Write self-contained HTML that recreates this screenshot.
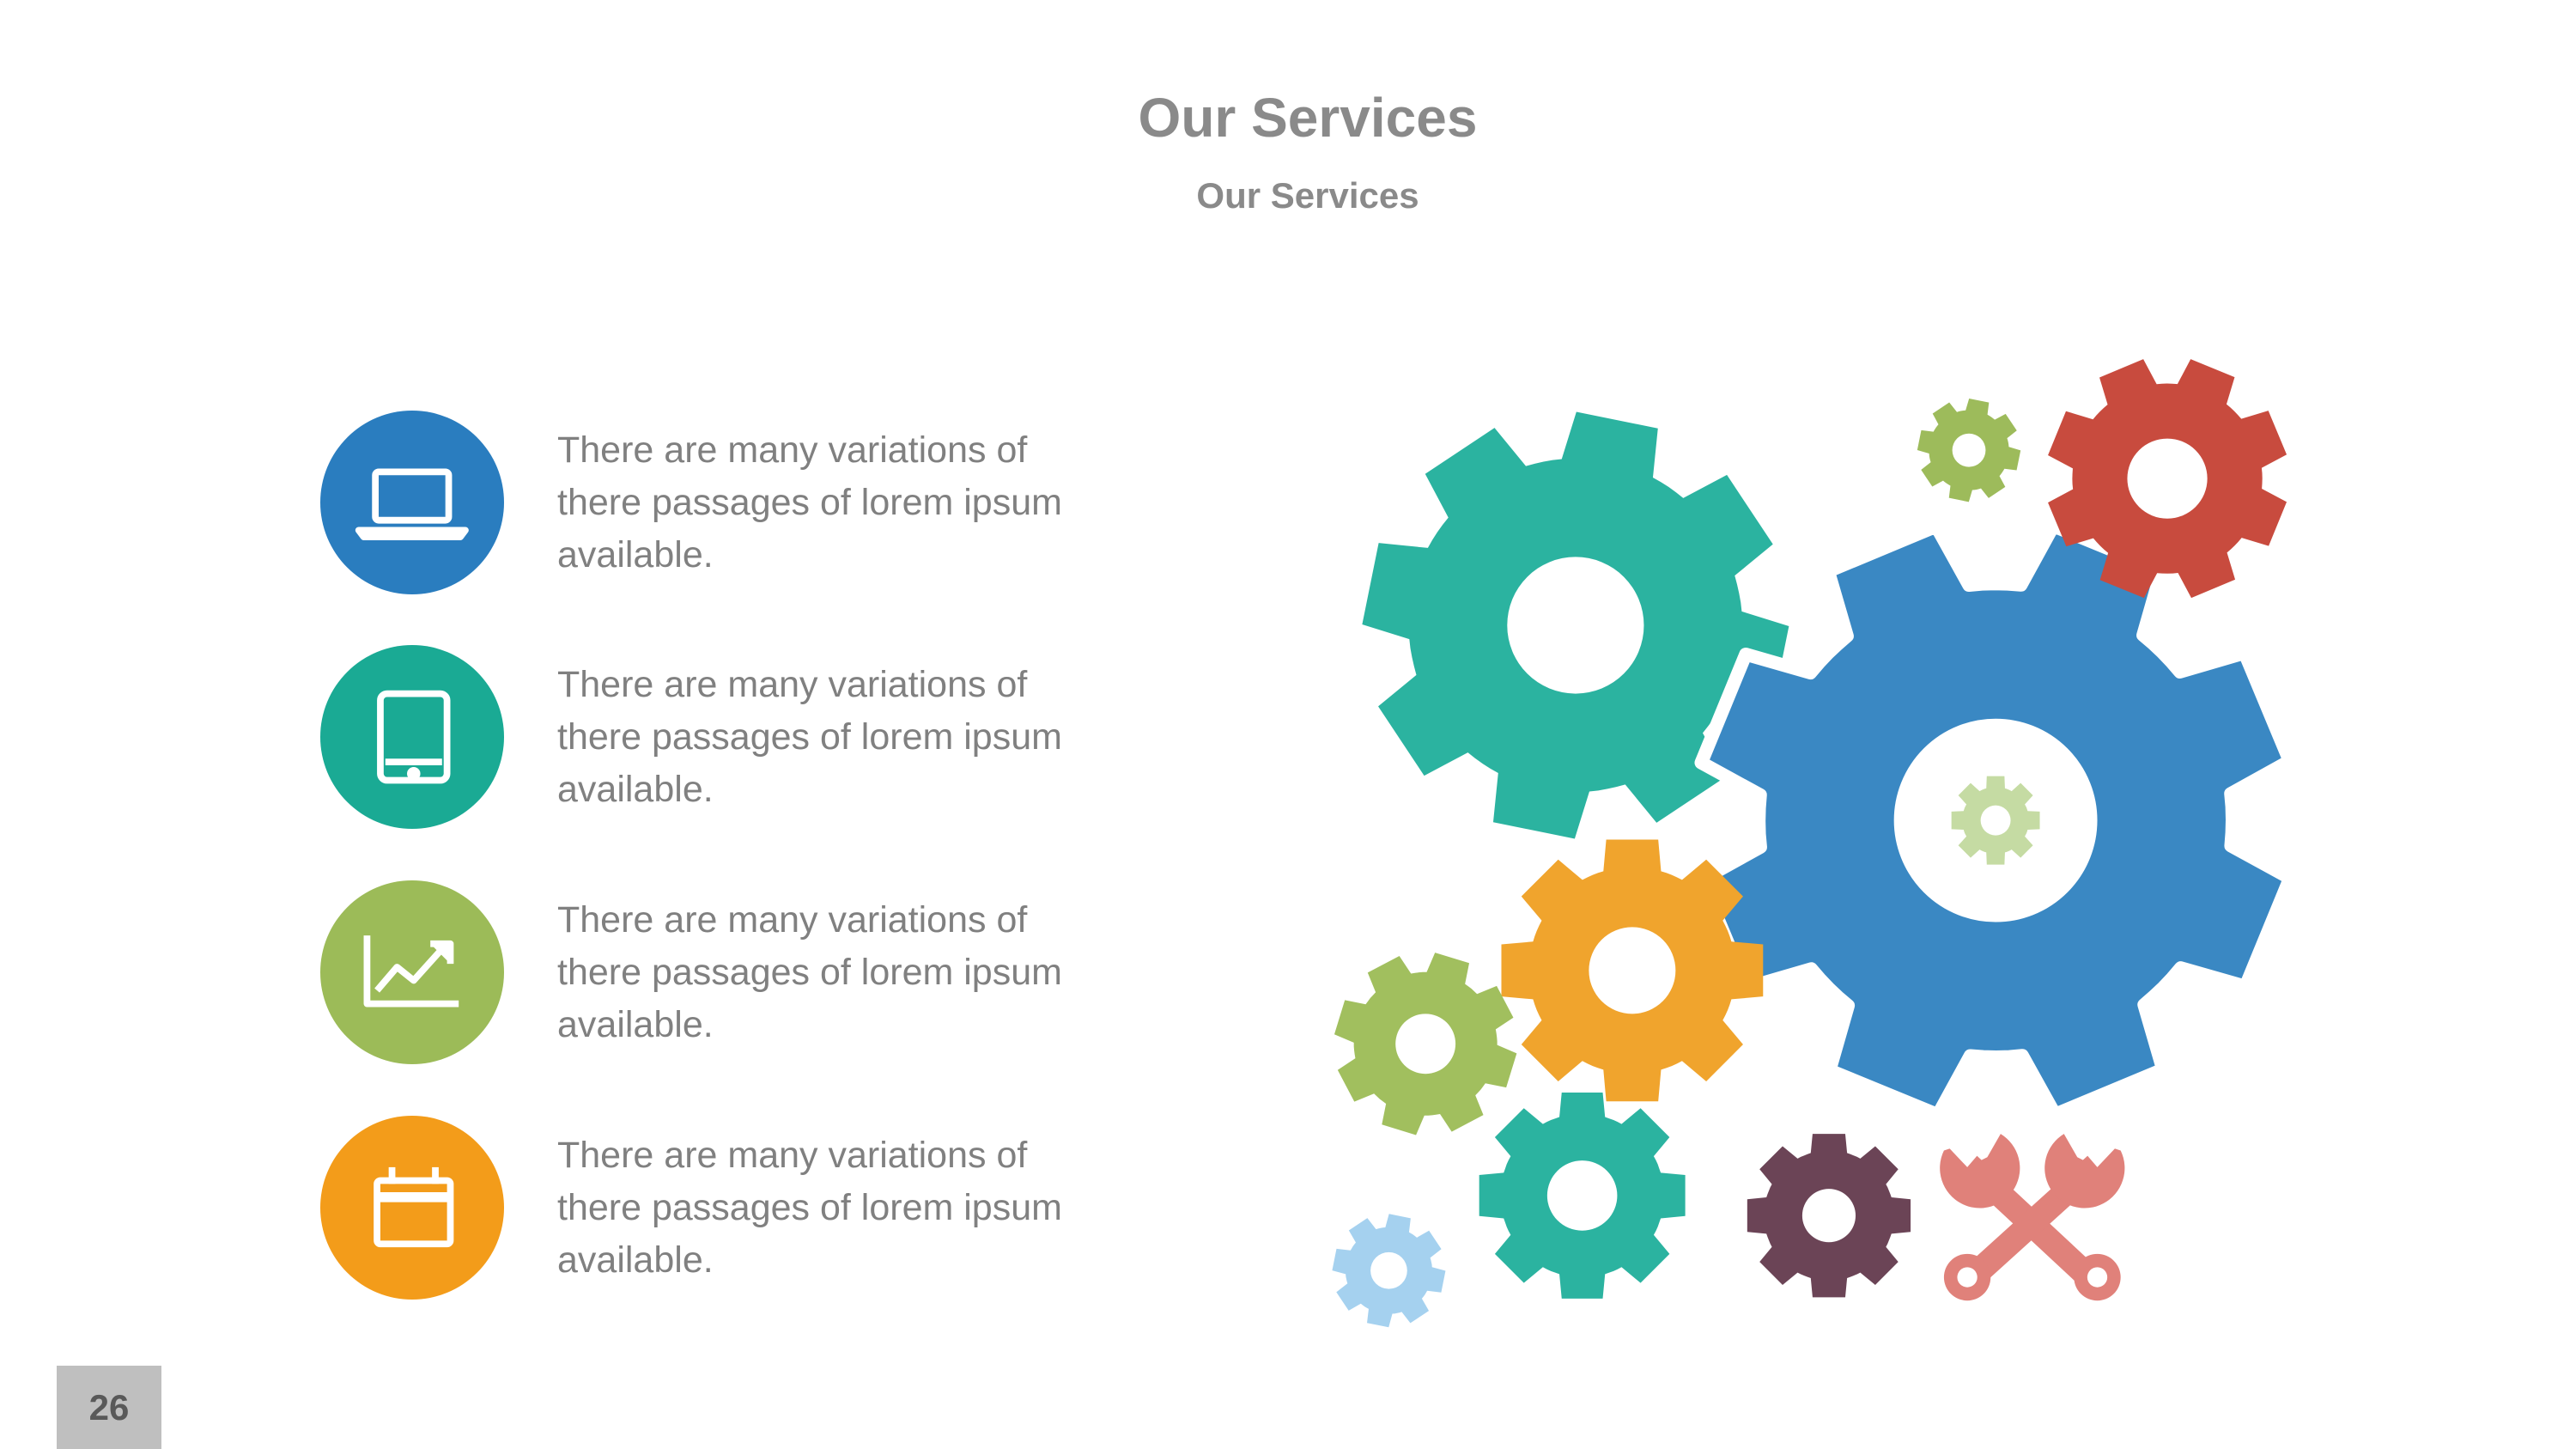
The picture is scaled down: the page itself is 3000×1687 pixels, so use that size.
<!DOCTYPE html>
<html><head><meta charset="utf-8"><style>
html,body{margin:0;padding:0;background:#fff}
body{width:3000px;height:1687px;position:relative;overflow:hidden;font-family:"Liberation Sans",sans-serif}
.t{position:absolute;left:0;width:3046px;text-align:center;color:#8a8a8a;font-weight:bold}
.c{position:absolute;width:214px;height:214px;border-radius:50%}
.p{position:absolute;left:649px;color:#808080;font-size:43px;line-height:61px;white-space:nowrap}
</style></head><body>
<div class="t" style="top:100px;font-size:64px">Our Services</div>
<div class="t" style="top:204px;font-size:42px">Our Services</div>

<div class="c" style="left:373px;top:478px;background:#2a7dbf"></div>
<div class="c" style="left:373px;top:751px;background:#1aaa94"></div>
<div class="c" style="left:373px;top:1025px;background:#9cbb58"></div>
<div class="c" style="left:373px;top:1299px;background:#f39c1a"></div>

<svg style="position:absolute;left:0;top:0" width="3000" height="1687" viewBox="0 0 1545 869">
 <g fill="none" stroke="#fff" stroke-width="4" stroke-linejoin="round">
  <rect x="225" y="283" width="44" height="29" rx="2"/>
  <path d="M215 318 H279 L276 322 H218 Z" fill="#fff"/>
  <rect x="228" y="416" width="40" height="52" rx="4"/>
  <circle cx="248" cy="464" r="2" fill="#fff"/>
  <line x1="231" y1="457" x2="265" y2="457"/>
  <path d="M220 561 V602 H275"/>
  <path d="M226 594 L238 580 L248 588 L266 568"/>
  <path d="M258 566 L270 566 L270 578" fill="#fff"/>
  <rect x="226" y="708" width="44" height="38" rx="2"/>
  <line x1="226" y1="718" x2="270" y2="718" stroke-width="6"/>
  <line x1="235" y1="700" x2="235" y2="710"/>
  <line x1="261" y1="700" x2="261" y2="710"/>
 </g>
 <g id="gears"></g>
 <g stroke="#e0817a" stroke-width="15" stroke-linecap="butt" fill="none">
  <line x1="1180" y1="698" x2="1252" y2="765"/>
  <line x1="1258" y1="698" x2="1184" y2="765"/>
 </g>
 <g fill="#e0817a">
  <circle cx="1180" cy="766" r="14"/><circle cx="1258" cy="766" r="14"/>
  <path d="M1166 690 A24 24 0 1 0 1200 680 L1192 694 L1180 700 L1172 688 Z"/>
  <path d="M1272 690 A24 24 0 1 1 1238 680 L1246 694 L1258 700 L1266 688 Z"/>
 </g>
 <g fill="#fff"><circle cx="1180" cy="766" r="6"/><circle cx="1258" cy="766" r="6"/>
  <path d="M1163 682 L1180 700 L1192 686 L1178 672 Z"/>
  <path d="M1275 682 L1258 700 L1246 686 L1260 672 Z"/></g>
</svg>

<div class="p" style="top:494px">There are many variations of<br>there passages of lorem ipsum<br>available.</div>
<div class="p" style="top:767px">There are many variations of<br>there passages of lorem ipsum<br>available.</div>
<div class="p" style="top:1041px">There are many variations of<br>there passages of lorem ipsum<br>available.</div>
<div class="p" style="top:1315px">There are many variations of<br>there passages of lorem ipsum<br>available.</div>

<div style="position:absolute;left:66px;top:1590px;width:122px;height:97px;background:#bfbfbf;color:#595959;font-weight:bold;font-size:42px;line-height:97px;text-align:center">26</div>

<script>
function gear(cx,cy,R,r,n,col,hole,rot,stroke){
 var pts=[],s=Math.PI/n,bw=s*0.72,tw=s*0.5;rot=rot||0;
 for(var i=0;i<n;i++){var a=rot+i*2*s;
  var list=[[r,a-bw],[R,a-tw],[R,a+tw],[r,a+bw]];
  for(var k=1;k<4;k++){list.push([r,a+bw+(2*s-2*bw)*k/4]);}
  list.forEach(function(p){pts.push((cx+p[0]*Math.sin(p[1])).toFixed(1)+' '+(cy-p[0]*Math.cos(p[1])).toFixed(1));});
 }
 var d='M'+pts.join(' L')+' Z';
 if(hole) d+=' M'+(cx+hole)+' '+cy+' A'+hole+' '+hole+' 0 1 0 '+(cx-hole)+' '+cy+' A'+hole+' '+hole+' 0 1 0 '+(cx+hole)+' '+cy+' Z';
 return '<path fill-rule="evenodd" fill="'+col+'" d="'+d+'"'+(stroke?' stroke="#fff" stroke-width="8" stroke-linejoin="round"':'')+'/>';
}
var g='';
g+=gear(945,375,128,100,8,'#2bb3a0',41,0.2);
g+=gear(1197,492,180,142,8,'#3a88c3',57,0.39,true);
g+=gear(1197,492,27,20,8,'#c5dba3',9,0);
g+=gear(1300,287,73,57,8,'#c84b3e',24,0.39);
g+=gear(1181,270,31,24,8,'#9dbb5b',10,0.2);
g+=gear(979,582,80,62,8,'#f0a42d',26,0);
g+=gear(855,626,55,43,8,'#a1bf5e',18,0.3);
g+=gear(949,717,63,49,8,'#2bb3a0',21,0);
g+=gear(1097,729,50,39,8,'#6b4456',16,0);
g+=gear(833,762,34,26,8,'#a5d1ef',11,0.2);
document.getElementById('gears').innerHTML=g;
</script>
</body></html>
